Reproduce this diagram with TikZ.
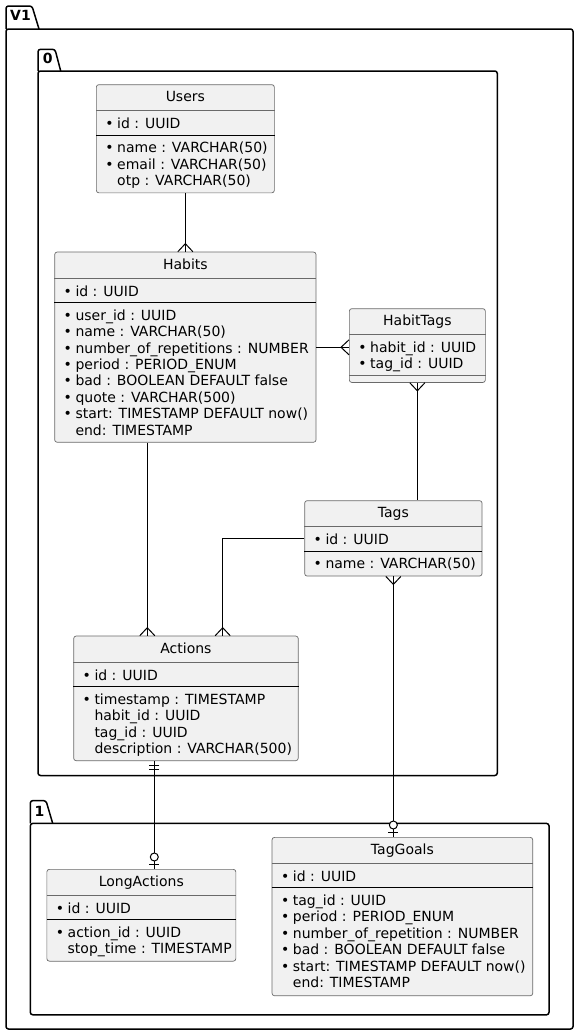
\documentclass[tikz,border=0pt]{standalone}
\usepackage{fontspec}
\setmainfont{DejaVu Sans}
\usepackage{tikz}
\usetikzlibrary{arrows.meta, positioning}
\usepackage{xcolor}
\definecolor{boxfill}{HTML}{F1F1F1}
\definecolor{boxline}{HTML}{6A6A6A}
\newcommand{\keydot}{\llap{\textbullet\hspace{3.5pt}}}
\tikzset{%
	entity/.style={
		draw=boxline,
		fill=boxfill,
		line width=0.7pt,
		rounded corners=2.5pt,
		inner sep=0pt,
		anchor=north west
	},
	etitle/.style={
		font=\fontsize{14}{16.4}\selectfont,
		inner sep=0pt,
		anchor=base
	},
	fields/.style={
		font=\fontsize{14}{16.4}\selectfont,
		inner sep=0pt,
		align=left,
		anchor=north west
	},
	titlesep/.style={draw=boxline, line width=0.7pt},
	keysep/.style={draw=black, line width=1.1pt},
	rel/.style={draw=black, line width=1pt},
	pkg/.style={draw=black, line width=1.5pt, rounded corners=2.5pt},
	pkglabel/.style={font=\fontsize{14}{16}\selectfont\bfseries, inner sep=0pt, anchor=base west},
	crow/.pic={\draw[rel] (-7.5,0) -- (0,-8) -- (7.5,0);},
	zeroone/.pic={
		\draw[rel] (-5,-5) -- (5,-5);
		\draw[rel, fill=white] (0,-12) circle[radius=4];
	},
	onlyone/.pic={
		\draw[rel] (-5,-4.5) -- (5,-4.5);
		\draw[rel] (-5,-8) -- (5,-8);
	},
}

\begin{document}
\begin{tikzpicture}[x=1pt, y=-1pt]
	\useasboundingbox (0,0) rectangle (579,1036);
	
	% packages
	\draw[pkg] (6,29) -- (6,6) -- (32,6) -- (39,29);
	\draw[pkg] (6,29) rectangle (573,1029);
	\node[pkglabel] (v1-label) at (10,20.7) {V1};
	
	\draw[pkg] (38,71) -- (38,49.3) -- (55,49.3) -- (60.7,71);
	\draw[pkg] (38,71) rectangle (497.3,775.5);
	\node[pkglabel] (p0-label) at (42.7,63.3) {0};
	
	\draw[pkg] (30.3,823.4) -- (30.3,800.6) -- (46,800.6) -- (52.7,823.4);
	\draw[pkg] (30.3,823.4) rectangle (549,1014.8);
	\node[pkglabel] (p1-label) at (34.5,816) {1};
	
	% Users
	\node[entity, minimum width=178, minimum height=108.2] (users) at (96,84.3) {};
	\node[etitle] (users-title) at ([yshift=-17.5]users.north) {Users};
	\draw[titlesep] ([yshift=-26.3]users.north west) -- ([yshift=-26.3]users.north east);
	\node[fields] (users-key) at ([xshift=21, yshift=-32.8]users.north west) {\strut\keydot id : UUID};
	\draw[keysep] ([yshift=-50.8]users.north west) -- ([yshift=-50.8]users.north east);
	\node[fields] (users-attr) at ([xshift=21, yshift=-56.9]users.north west) {%
		\strut\keydot name : VARCHAR(50)\\
		\keydot email : VARCHAR(50)\\
		otp : VARCHAR(50)};
	
	% Habits
	\node[entity, minimum width=261.4, minimum height=190.2] (habits) at (54.3,251.7) {};
	\node[etitle] (habits-title) at ([yshift=-17.5]habits.north) {Habits};
	\draw[titlesep] ([yshift=-26.3]habits.north west) -- ([yshift=-26.3]habits.north east);
	\node[fields] (habits-key) at ([xshift=21, yshift=-32.8]habits.north west) {\strut\keydot id : UUID};
	\draw[keysep] ([yshift=-50.8]habits.north west) -- ([yshift=-50.8]habits.north east);
	\node[fields] (habits-attr) at ([xshift=21, yshift=-56.9]habits.north west) {%
		\strut\keydot user\_id : UUID\\
		\keydot name : VARCHAR(50)\\
		\keydot number\_of\_repetitions : NUMBER\\
		\keydot period : PERIOD\_ENUM\\
		\keydot bad : BOOLEAN DEFAULT false\\
		\keydot quote : VARCHAR(500)\\
		\keydot start: TIMESTAMP DEFAULT now()\\
		end: TIMESTAMP};
	
	% HabitTags
	\node[entity, minimum width=136, minimum height=73.8] (habittags) at (349,308.3) {};
	\node[etitle] (habittags-title) at ([yshift=-17.5]habittags.north) {HabitTags};
	\draw[titlesep] ([yshift=-26.3]habittags.north west) -- ([yshift=-26.3]habittags.north east);
	\node[fields] (habittags-attr) at ([xshift=21, yshift=-32.4]habittags.north west) {%
		\strut\keydot habit\_id : UUID\\
		\keydot tag\_id : UUID};
	\draw[titlesep] ([yshift=-67.3]habittags.north west) -- ([yshift=-67.3]habittags.north east);
	
	% Tags
	\node[entity, minimum width=177.4, minimum height=75.4] (tags) at (304.3,500.3) {};
	\node[etitle] (tags-title) at ([yshift=-17.5]tags.north) {Tags};
	\draw[titlesep] ([yshift=-26.3]tags.north west) -- ([yshift=-26.3]tags.north east);
	\node[fields] (tags-key) at ([xshift=21, yshift=-32.8]tags.north west) {\strut\keydot id : UUID};
	\draw[keysep] ([yshift=-50.8]tags.north west) -- ([yshift=-50.8]tags.north east);
	\node[fields] (tags-attr) at ([xshift=21, yshift=-56.9]tags.north west) {\strut\keydot name : VARCHAR(50)};
	
	% Actions
	\node[entity, minimum width=224.6, minimum height=124.6] (actions) at (73.3,635.7) {};
	\node[etitle] (actions-title) at ([yshift=-17.5]actions.north) {Actions};
	\draw[titlesep] ([yshift=-26.3]actions.north west) -- ([yshift=-26.3]actions.north east);
	\node[fields] (actions-key) at ([xshift=21, yshift=-32.8]actions.north west) {\strut\keydot id : UUID};
	\draw[keysep] ([yshift=-50.8]actions.north west) -- ([yshift=-50.8]actions.north east);
	\node[fields] (actions-attr) at ([xshift=21, yshift=-56.9]actions.north west) {%
		\strut\keydot timestamp : TIMESTAMP\\
		habit\_id : UUID\\
		tag\_id : UUID\\
		description : VARCHAR(500)};
	
	% LongActions
	\node[entity, minimum width=189, minimum height=91.8] (longactions) at (46.5,869) {};
	\node[etitle] (longactions-title) at ([yshift=-17.5]longactions.north) {LongActions};
	\draw[titlesep] ([yshift=-26.3]longactions.north west) -- ([yshift=-26.3]longactions.north east);
	\node[fields] (longactions-key) at ([xshift=21, yshift=-32.8]longactions.north west) {\strut\keydot id : UUID};
	\draw[keysep] ([yshift=-50.8]longactions.north west) -- ([yshift=-50.8]longactions.north east);
	\node[fields] (longactions-attr) at ([xshift=21, yshift=-56.9]longactions.north west) {%
		\strut\keydot action\_id : UUID\\
		stop\_time : TIMESTAMP};
	
	% TagGoals
	\node[entity, minimum width=260.7, minimum height=158.4] (taggoals) at (271.7,837) {};
	\node[etitle] (taggoals-title) at ([yshift=-17.5]taggoals.north) {TagGoals};
	\draw[titlesep] ([yshift=-26.3]taggoals.north west) -- ([yshift=-26.3]taggoals.north east);
	\node[fields] (taggoals-key) at ([xshift=21, yshift=-32.8]taggoals.north west) {\strut\keydot id : UUID};
	\draw[keysep] ([yshift=-50.8]taggoals.north west) -- ([yshift=-50.8]taggoals.north east);
	\node[fields] (taggoals-attr) at ([xshift=21, yshift=-56.9]taggoals.north west) {%
		\strut\keydot tag\_id : UUID\\
		\keydot period : PERIOD\_ENUM\\
		\keydot number\_of\_repetition : NUMBER\\
		\keydot bad : BOOLEAN DEFAULT false\\
		\keydot start: TIMESTAMP DEFAULT now()\\
		end: TIMESTAMP};
	
	% relations
	\draw[rel] (users.south) -- (users.south |- habits.north);
	\pic at (habits.north) {crow};
	
	\coordinate (ht-in) at ([yshift=-39]habittags.north west);
	\draw[rel] (ht-in -| habits.east) -- (ht-in);
	\pic[rotate=90] at (ht-in) {crow};
	
	\draw[rel] (habittags.south) -- (habittags.south |- tags.north);
	\pic[rotate=180] at (habittags.south) {crow};
	
	\coordinate (ha-in) at ([xshift=74]actions.north west);
	\draw[rel] (ha-in |- habits.south) -- (ha-in);
	\pic at (ha-in) {crow};
	
	\coordinate (ta-in) at ([xshift=149.4]actions.north west);
	\draw[rel] (tags.west) -| (ta-in);
	\pic at (ta-in) {crow};
	
	\coordinate (tg-in) at (tags.south |- taggoals.north);
	\draw[rel] (tags.south) -- (tg-in);
	\pic[rotate=180] at (tags.south) {crow};
	\pic at (tg-in) {zeroone};
	
	\coordinate (al-out) at ([xshift=81]actions.south west);
	\coordinate (al-in) at (al-out |- longactions.north);
	\draw[rel] (al-out) -- (al-in);
	\pic[rotate=180] at (al-out) {onlyone};
	\pic at (al-in) {zeroone};
\end{tikzpicture}
\end{document}
